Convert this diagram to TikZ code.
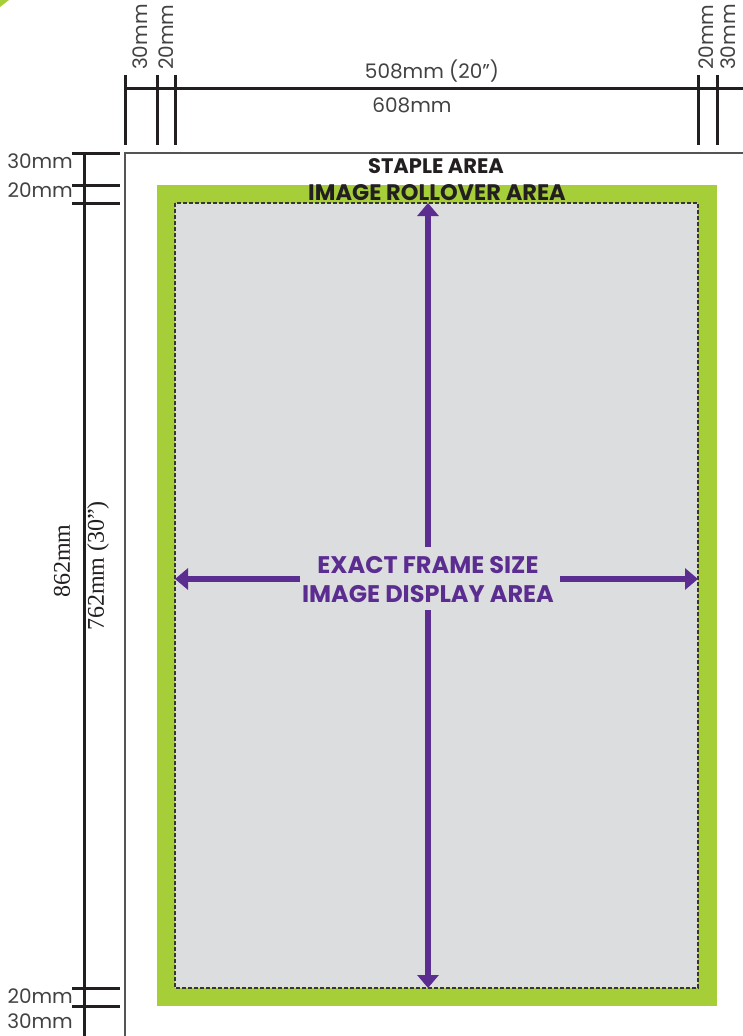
\documentclass[tikz,border=0pt]{standalone}
\usepackage{fontspec}
\setmainfont{Poppins}
\newfontfamily\serifdim{Liberation Serif}
\usetikzlibrary{arrows.meta}
\definecolor{lime}{HTML}{A6CE39}
\definecolor{panel}{HTML}{DCDDDF}
\definecolor{purp}{HTML}{5B2D90}
\definecolor{ink}{HTML}{231F20}
\definecolor{edge}{HTML}{555555}
\begin{document}
\begin{tikzpicture}[x=1pt,y=-1pt,
  dimline/.style={line width=3pt,draw=ink},
  dimlbl/.style={font=\fontsize{20}{24}\selectfont,text=ink!85,inner sep=0pt},
  serlbl/.style={font=\serifdim\fontsize{24}{28}\selectfont,text=ink,inner sep=0pt,rotate=90},
  boldlbl/.style={font=\bfseries\fontsize{21}{25}\selectfont,text=ink,inner sep=0pt},
  centerlbl/.style={font=\bfseries\fontsize{24}{29}\selectfont,text=purp,inner sep=0pt,align=center},
  parrow/.style={line width=6pt,draw=purp,-{Triangle[length=13pt,width=21pt]}}]
\useasboundingbox (0,0) rectangle (743,1036);
% corner mark
\fill[lime] (0,0) -- (9,0) -- (0,7) -- cycle;
% page
\draw[edge,line width=1.5pt] (125,1036) -- (125,153) -- (743,153);
% green rollover area
\fill[lime] (157,185) rectangle (717,1006);
% image display
\fill[panel] (175,203) rectangle (698,988);
\draw[ink!90,line width=1.3pt,dash pattern=on 4pt off 2pt] (175,203) rectangle (698,988);
% top dimension
\draw[dimline] (125,88) -- (743,88);
\foreach \x in {125,157,175,698,717} \draw[dimline] (\x,75) -- (\x,145);
\node[dimlbl,rotate=90,anchor=west] (t30a) at (140,70) {30mm};
\node[dimlbl,rotate=90,anchor=west] (t20a) at (166,70) {20mm};
\node[dimlbl,rotate=90,anchor=west] (t20b) at (706,70) {20mm};
\node[dimlbl,rotate=90,anchor=west] (t30b) at (728,70) {30mm};
\node[dimlbl] (w508) at (432,71) {508mm (20”)};
\node[dimlbl] (w608) at (412,105) {608mm};
% left dimension
\draw[dimline] (84,153) -- (84,1036);
\foreach \y in {153,185,203,988,1006} \draw[dimline] (72,\y) -- (120,\y);
\node[dimlbl,anchor=east] (l30a) at (73,161) {30mm};
\node[dimlbl,anchor=east] (l20a) at (73,190) {20mm};
\node[dimlbl,anchor=east] (l20b) at (73,996) {20mm};
\node[dimlbl,anchor=east] (l30b) at (73,1021) {30mm};
\node[serlbl] (h862) at (62,561) {862mm};
\node[serlbl] (h762) at (98,566) {762mm (30”)};
% area labels
\node[boldlbl] (staple) at (436,166) {STAPLE AREA};
\node[boldlbl,font=\bfseries\fontsize{22.5}{26}\selectfont] (roll) at (437,193) {IMAGE ROLLOVER AREA};
% centre label and arrows
\node[centerlbl] (ctr) at (428,580) {EXACT FRAME SIZE\\IMAGE DISPLAY AREA};
\coordinate (vtop) at (428,203);
\coordinate (vbot) at (428,988);
\coordinate (hl) at (175,579);
\coordinate (hr) at (698,579);
\coordinate (vt0) at (428,547);
\coordinate (vb0) at (428,610);
\coordinate (hl0) at (300,579);
\coordinate (hr0) at (560,579);
\draw[parrow] (vt0) -- (vtop);
\draw[parrow] (vb0) -- (vbot);
\draw[parrow] (hl0) -- (hl);
\draw[parrow] (hr0) -- (hr);
\end{tikzpicture}
\end{document}
